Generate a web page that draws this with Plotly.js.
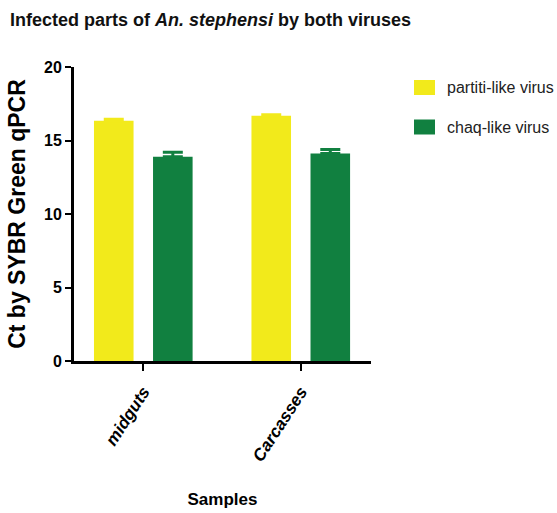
<!DOCTYPE html>
<html>
<head>
<meta charset="utf-8">
<script src="https://cdn.plot.ly/plotly-3.0.1.min.js"></script>
<style>
  html, body { margin: 0; padding: 0; background: #fff; }
  #chart { width: 557px; height: 513px; }
</style>
</head>
<body>
<div id="chart"></div>
<script>
// Ct values (SYBR Green qPCR) per tissue, with SEM
const samples = ["midguts", "Carcasses"];
const seriesNames = ["partiti-like virus", "chaq-like virus"];
const partitiCt = [16.34, 16.68];
const partitiErr = [0.10, 0.07];
const chaqCt = [13.90, 14.11];
const chaqErr = [0.30, 0.28];
const yTicks = [0, 5, 10, 15, 20];

const colors = ["#F2EA1B", "#118040"];
const W = 557, H = 513;
const M = { l: 74, r: 186, t: 67, b: 152 };
const sans = "Liberation Sans, Arial, sans-serif";

function barTrace(name, y, err, color) {
  return {
    type: "bar",
    name: name,
    x: samples,
    y: y,
    marker: { color: color, line: { width: 0 } },
    error_y: { type: "data", array: err, symmetric: false, arrayminus: err.map(() => 0),
               color: color, thickness: 3, width: 10 },
    showlegend: false,
    hoverinfo: "x+y+name"
  };
}

const data = [
  barTrace(seriesNames[0], partitiCt, partitiErr, colors[0]),
  barTrace(seriesNames[1], chaqCt, chaqErr, colors[1])
];

// legend drawn as swatches + labels placed in pixel space beside the plot
const pw = W - M.l - M.r, ph = H - M.t - M.b;
const px = x => (x - M.l) / pw;
const py = y => (H - M.b - y) / ph;
const legendRows = [87.5, 127];
const shapes = [], annotations = [];
seriesNames.forEach((n, i) => {
  const cy = legendRows[i];
  shapes.push({ type: "rect", xref: "paper", yref: "paper",
    x0: px(414), x1: px(435), y0: py(cy - 7.5), y1: py(cy + 7.5),
    fillcolor: colors[i], line: { width: 0 } });
  annotations.push({ xref: "paper", yref: "paper", x: px(445), y: py(cy),
    xanchor: "left", yanchor: "middle", showarrow: false, text: n,
    font: { family: sans, size: 16, color: "#222" } });
});

const layout = {
  width: W, height: H,
  margin: M,
  paper_bgcolor: "#fff", plot_bgcolor: "#fff",
  title: {
    text: "Infected parts of <i>An. stephensi</i> by both viruses",
    xref: "container", yref: "container", x: 10 / W, xanchor: "left",
    y: 1 - 20 / H, yanchor: "middle",
    font: { family: sans, size: 18, weight: "bold", color: "#111" }
  },
  barmode: "group",
  bargap: 0.25,
  bargroupgap: 0.33,
  showlegend: false,
  xaxis: {
    range: [-0.44, 1.446],
    showline: true, linecolor: "#000", linewidth: 3,
    ticks: "outside", ticklen: 7, tickwidth: 2, tickcolor: "#000",
    tickangle: -57,
    ticklabelstandoff: 4,
    tickfont: { family: sans, size: 17, weight: "bold", style: "italic", color: "#000" },
    showgrid: false, zeroline: false, fixedrange: true,
    title: { text: "Samples", standoff: 30,
      font: { family: sans, size: 17, weight: "bold", color: "#000" } }
  },
  yaxis: {
    range: [0, 20],
    tickvals: yTicks,
    showline: true, linecolor: "#000", linewidth: 3,
    ticks: "outside", ticklen: 6, tickwidth: 2, tickcolor: "#000",
    tickfont: { family: sans, size: 16, weight: "bold", color: "#000" },
    showgrid: false, zeroline: false, fixedrange: true,
    title: { text: "Ct by SYBR Green qPCR", standoff: 12,
      font: { family: sans, size: 23, weight: "bold", color: "#000" } }
  },
  shapes: shapes,
  annotations: annotations
};

Plotly.newPlot("chart", data, layout, { displayModeBar: false, staticPlot: true });
</script>
</body>
</html>
